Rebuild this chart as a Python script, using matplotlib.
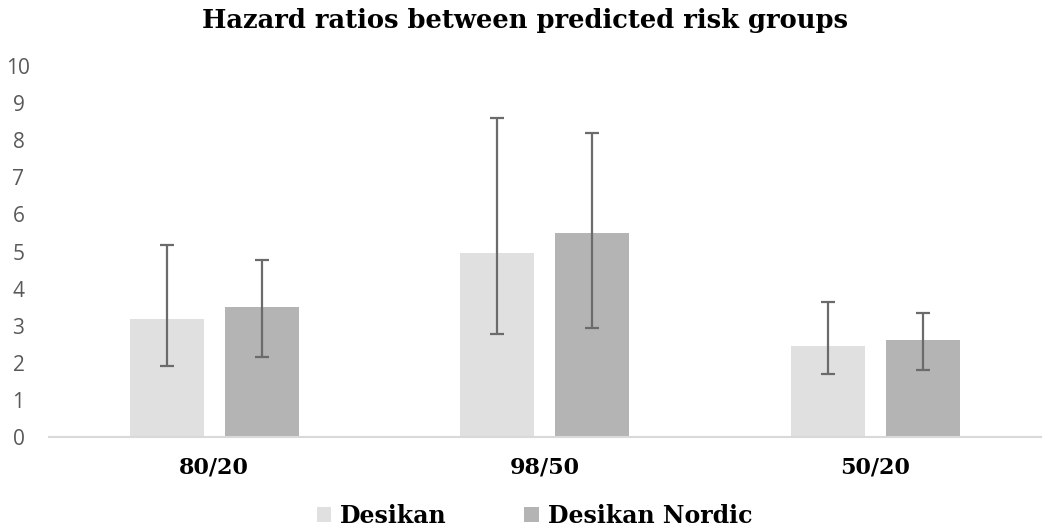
import numpy as np
import matplotlib
matplotlib.use('Agg')
import matplotlib.pyplot as plt

# Data
categories = ['80/20', '98/50', '50/20']
desikan = [3.17, 4.96, 2.45]
desikan_low = [1.91, 2.78, 1.70]
desikan_high = [5.17, 8.60, 3.64]
nordic = [3.50, 5.50, 2.61]
nordic_low = [2.17, 2.94, 1.80]
nordic_high = [4.76, 8.19, 3.34]
y_ticks = list(range(0, 11))

serif = ['DejaVu Serif']

fig = plt.figure(figsize=(10.5, 5.28), dpi=100)
ax = fig.add_axes([0.0467, 0.1723, 0.9443, 0.7027])

x = np.arange(len(categories))
w = 0.224
off = 0.1435

def yerr(vals, lo, hi):
    v = np.array(vals)
    return [v - np.array(lo), np.array(hi) - v]

err_kw = dict(ecolor='#6b6b6b', elinewidth=1.6, capsize=5, capthick=1.6)
ax.bar(x - off, desikan, w, color='#e0e0e0', label='Desikan',
       yerr=yerr(desikan, desikan_low, desikan_high), error_kw=err_kw, zorder=2)
ax.bar(x + off, nordic, w, color='#b4b4b4', label='Desikan Nordic',
       yerr=yerr(nordic, nordic_low, nordic_high), error_kw=err_kw, zorder=2)

ax.set_xlim(-0.5, 2.5)
ax.set_ylim(0, 10)
ax.set_yticks(y_ticks)
ax.set_yticklabels([str(t) for t in y_ticks], fontsize=15, color='#595959',
                   family=['Open Sans', 'DejaVu Sans'])
ax.set_xticks(x)
ax.set_xticklabels(categories, fontsize=16, fontweight='bold', family=serif)
ax.tick_params(axis='both', length=0)
ax.tick_params(axis='x', pad=14)
ax.tick_params(axis='y', pad=22)
for t in ax.get_yticklabels():
    t.set_horizontalalignment('center')

for s in ['top', 'right', 'left']:
    ax.spines[s].set_visible(False)
ax.spines['bottom'].set_color('#d9d9d9')
ax.spines['bottom'].set_linewidth(1.5)

fig.suptitle('Hazard ratios between predicted risk groups', x=0.5, y=0.985,
             fontsize=18.5, fontweight='bold', family=serif)

fig.legend(loc='lower center', bbox_to_anchor=(0.509, -0.04), ncol=2, frameon=False,
           prop={'family': serif, 'weight': 'bold', 'size': 17},
           handlelength=0.6, handleheight=0.6, handletextpad=0.38, columnspacing=3.3)

fig.savefig('out.png', dpi=100)
